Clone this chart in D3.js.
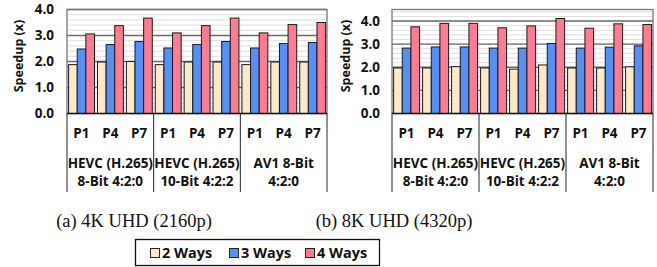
<!DOCTYPE html>
<html>
<head>
<meta charset="utf-8">
<script src="https://cdn.jsdelivr.net/npm/d3@7"></script>
<style>
  body { margin: 0; background: #fff; }
  svg text { font-family: "Open Sans", "Noto Sans", sans-serif; font-weight: bold; fill: #111; }
  svg text.cap { font-family: "Liberation Serif", "DejaVu Serif", serif; font-weight: normal; }
</style>
</head>
<body>
<script>
// categories
var groups = [["HEVC (H.265)", "8-Bit 4:2:0"], ["HEVC (H.265)", "10-Bit 4:2:2"], ["AV1 8-Bit", "4:2:0"]];
var presets = ["P1", "P4", "P7"];
var ways = ["2 Ways", "3 Ways", "4 Ways"];
var yTicks = [0, 1, 2, 3, 4];

// (a) 4K UHD, in group order, P1 P4 P7 each
var k4Ways2 = [1.88, 1.98, 2.00, 1.88, 1.98, 1.98, 1.88, 1.98, 1.98];
var k4Ways3 = [2.48, 2.65, 2.77, 2.52, 2.65, 2.77, 2.52, 2.69, 2.73];
var k4Ways4 = [3.06, 3.38, 3.67, 3.10, 3.38, 3.67, 3.10, 3.42, 3.50];
// (b) 8K UHD
var k8Ways2 = [1.97, 1.97, 2.03, 1.97, 1.92, 2.10, 1.97, 1.97, 2.02];
var k8Ways3 = [2.83, 2.88, 2.88, 2.83, 2.83, 3.03, 2.83, 2.87, 2.93];
var k8Ways4 = [3.75, 3.90, 3.90, 3.71, 3.79, 4.11, 3.69, 3.88, 3.85];

var colors = ["#fde9c8", "#5590f6", "#ff7b92"];

var svg = d3.select("body").append("svg").attr("width", 657).attr("height", 267);

function drawPanel(opts) {
    var left = opts.left, right = opts.right, top = 9.5, bottom = 113.5;
    var y = d3.scaleLinear().domain([0, opts.max]).range([bottom, top]);
    var x0 = d3.scaleBand().domain(d3.range(groups.length)).range([left, right]);
    var x1 = d3.scaleBand().domain(presets).range([0, x0.bandwidth()]);
    var x2 = d3.scaleBand().domain(ways).range([1.6, x1.bandwidth() - 1.4]);
    var g = svg.append("g");

    // minor grid
    g.append("g").selectAll("line")
        .data(d3.range(0, opts.max + 0.001, 0.2))
        .join("line")
        .attr("x1", left).attr("x2", right)
        .attr("y1", d => y(d)).attr("y2", d => y(d))
        .attr("stroke", "#dedede").attr("stroke-width", 1);
    // major grid
    g.append("g").selectAll("line")
        .data(yTicks.slice(1))
        .join("line")
        .attr("x1", left).attr("x2", right)
        .attr("y1", d => y(d)).attr("y2", d => y(d))
        .attr("stroke", "#6b6b6b").attr("stroke-width", 1.4);
    g.append("rect")
        .attr("x", left).attr("y", top)
        .attr("width", right - left).attr("height", bottom - top)
        .attr("fill", "none").attr("stroke", "#777").attr("stroke-width", 1.3);

    // bars
    var series = [opts.w2, opts.w3, opts.w4];
    series.forEach(function(vals, s) {
        g.append("g").selectAll("rect")
            .data(vals)
            .join("rect")
            .attr("x", (d, i) => x0(Math.floor(i / 3)) + x1(presets[i % 3]) + x2(ways[s]))
            .attr("y", d => y(d))
            .attr("width", x2.bandwidth())
            .attr("height", d => y(0) - y(d))
            .attr("fill", colors[s])
            .attr("stroke", "#1a1a1a").attr("stroke-width", 1);
    });

    // y axis
    var yAxis = d3.axisLeft(y).tickValues(yTicks).tickFormat(d3.format(".1f")).tickSize(0).tickPadding(0);
    var ya = g.append("g").attr("transform", "translate(" + (opts.labelX) + ",0)").call(yAxis);
    ya.select(".domain").remove();
    ya.selectAll("text").attr("font-size", 13.5).attr("font-family", null);
    g.append("text")
        .attr("transform", "translate(" + opts.titleX + "," + 56 + ") rotate(-90)")
        .attr("text-anchor", "middle").attr("dy", "0.35em")
        .attr("font-size", 12.5)
        .text("Speedup (x)");

    // category axis
    g.append("line").attr("x1", left).attr("x2", right).attr("y1", bottom).attr("y2", bottom)
        .attr("stroke", "#111").attr("stroke-width", 1.3);
    var seps = d3.range(groups.length).map(i => x0(i)).concat([right]);
    g.append("g").selectAll("line")
        .data(seps)
        .join("line")
        .attr("x1", d => d).attr("x2", d => d)
        .attr("y1", bottom).attr("y2", 192)
        .attr("stroke", "#222").attr("stroke-width", 1);
    g.append("g").selectAll("text")
        .data(d3.range(groups.length * presets.length))
        .join("text")
        .attr("x", i => x0(Math.floor(i / 3)) + x1(presets[i % 3]) + x1.bandwidth() / 2)
        .attr("y", 133).attr("dy", "0.35em")
        .attr("text-anchor", "middle").attr("font-size", 13.5)
        .text(i => presets[i % 3]);
    groups.forEach(function(gl, i) {
        gl.forEach(function(line, j) {
            g.append("text")
                .attr("x", x0(i) + x0.bandwidth() / 2)
                .attr("y", 163 + j * 18).attr("dy", "0.35em")
                .attr("text-anchor", "middle").attr("font-size", 13.5)
                .text(line);
        });
    });

    svg.append("text").attr("class", "cap")
        .attr("x", opts.capX).attr("y", 221).attr("dy", "0.35em")
        .attr("text-anchor", "middle").attr("font-size", 18.5)
        .text(opts.caption);
}

drawPanel({ left: 67, right: 327, max: 4.0, labelX: 54, titleX: 19,
    w2: k4Ways2, w3: k4Ways3, w4: k4Ways4, capX: 134, caption: "(a) 4K UHD (2160p)" });
drawPanel({ left: 392, right: 653, max: 4.5, labelX: 380, titleX: 346,
    w2: k8Ways2, w3: k8Ways3, w4: k8Ways4, capX: 394, caption: "(b) 8K UHD (4320p)" });

// legend
var leg = svg.append("g");
leg.append("rect").attr("x", 135.5).attr("y", 239.5).attr("width", 244).attr("height", 26)
    .attr("fill", "#fff").attr("stroke", "#111").attr("stroke-width", 1.3);
var legX = [150, 229, 305];
ways.forEach(function(w, i) {
    leg.append("rect").attr("x", legX[i] + 0.5).attr("y", 248.5).attr("width", 9).attr("height", 9)
        .attr("fill", colors[i]).attr("stroke", "#222").attr("stroke-width", 1);
    leg.append("text").attr("x", legX[i] + 12).attr("y", 253).attr("dy", "0.35em")
        .attr("font-size", 14.5).text(w);
});
</script>
</body>
</html>
